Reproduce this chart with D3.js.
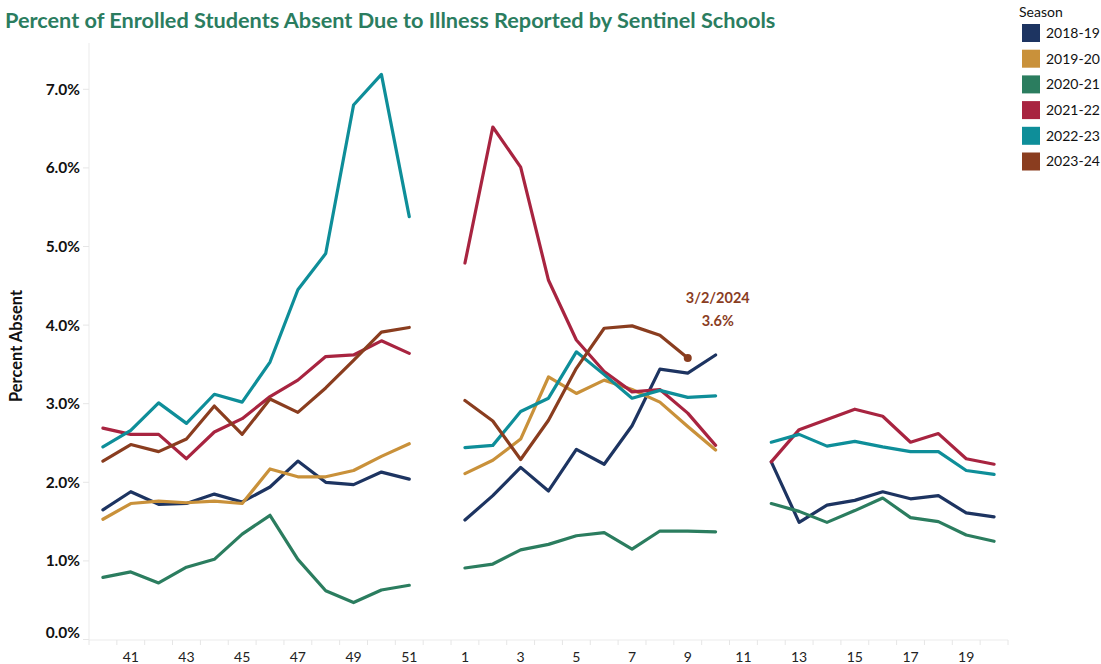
<!DOCTYPE html>
<html>
<head>
<meta charset="utf-8">
<script src="https://cdn.jsdelivr.net/npm/d3@7"></script>
<style>
body{margin:0;background:#fff;}
svg{display:block;font-family:Lato,"Open Sans",sans-serif;}
</style>
</head>
<body>
<svg id="chart" width="1101" height="664"></svg>
<script>
// Week slots (school season order)
const weeks = [40,41,42,43,44,45,46,47,48,49,50,51,52,1,2,3,4,5,6,7,8,9,10,11,12,13,14,15,16,17,18,19,20];
const tickLabels = [41,43,45,47,49,51,1,3,5,7,9,11,13,15,17,19];
const yTicks = [0,1,2,3,4,5,6,7];
const seasons = ["2018-19","2019-20","2020-21","2021-22","2022-23","2023-24"];
const colors = ["#1d3461","#c9913a","#2b7d5f","#a82440","#0e8e99","#8a3d1f"];

// values in percent, null = no data (aligned with weeks)
const s201819 = [1.65,1.88,1.72,1.73,1.85,1.75,1.94,2.27,2.00,1.97,2.13,2.04,null,
  1.52,1.83,2.19,1.89,2.42,2.23,2.72,3.44,3.39,3.62,null,
  2.26,1.49,1.71,1.77,1.88,1.79,1.83,1.61,1.56];
const s201920 = [1.53,1.73,1.76,1.74,1.76,1.73,2.17,2.07,2.07,2.15,2.33,2.49,null,
  2.11,2.28,2.55,3.34,3.13,3.30,3.18,3.02,2.71,2.41,null,
  null,null,null,null,null,null,null,null,null];
const s202021 = [0.79,0.86,0.72,0.92,1.02,1.34,1.58,1.02,0.62,0.47,0.63,0.69,null,
  0.91,0.96,1.14,1.21,1.32,1.36,1.15,1.38,1.38,1.37,null,
  1.73,1.63,1.49,1.64,1.80,1.55,1.50,1.33,1.25];
const s202122 = [2.69,2.61,2.61,2.30,2.64,2.81,3.09,3.30,3.60,3.62,3.80,3.64,null,
  4.79,6.52,6.01,4.57,3.81,3.41,3.15,3.18,2.88,2.47,null,
  2.26,2.67,2.80,2.93,2.84,2.51,2.62,2.30,2.23];
const s202223 = [2.45,2.66,3.01,2.75,3.12,3.02,3.53,4.45,4.91,6.80,7.19,5.38,null,
  2.44,2.47,2.90,3.07,3.66,3.37,3.07,3.17,3.08,3.10,null,
  2.51,2.61,2.46,2.52,2.45,2.39,2.39,2.15,2.10];
const s202324 = [2.27,2.48,2.39,2.55,2.97,2.61,3.06,2.89,3.20,3.55,3.91,3.97,null,
  3.04,2.78,2.29,2.79,3.45,3.96,3.99,3.87,3.58,null,null,
  null,null,null,null,null,null,null,null,null];
const seriesValues = [s201819,s201920,s202021,s202122,s202223,s202324];

const annotDate = "3/2/2024";
const annotValue = "3.6%";
const annotSeason = 5;
const annotWeekIndex = 21; // week 9

const svg = d3.select("#chart");

const x = d3.scalePoint().domain(d3.range(weeks.length)).range([89,1008]).padding(0.5);
const step = x.step();
const y = d3.scaleLinear().domain([0,7]).range([639.5,89.3]);

// Title
svg.append("text").attr("x",5).attr("y",28)
  .attr("font-size",21.7).attr("font-weight","bold").attr("fill","#2b7d5f")
  .text("Percent of Enrolled Students Absent Due to Illness Reported by Sentinel Schools");

// Y axis line
svg.append("line").attr("x1",89).attr("x2",89).attr("y1",43).attr("y2",640)
  .attr("stroke","#ebebeb").attr("stroke-width",1);
// X axis line
svg.append("line").attr("x1",89).attr("x2",1008).attr("y1",640).attr("y2",640)
  .attr("stroke","#ebebeb").attr("stroke-width",1);

// Y ticks
const yAxisG = svg.append("g");
yAxisG.selectAll("line.yt").data(yTicks).join("line")
  .attr("x1",83).attr("x2",89).attr("y1",d=>y(d)).attr("y2",d=>y(d))
  .attr("stroke","#e6e6e6");
yAxisG.selectAll("text.yt").data(yTicks).join("text")
  .attr("x",80).attr("y",d=>y(d) - (d===0?7:0)).attr("dy","0.35em")
  .attr("text-anchor","end").attr("font-size",15.5).attr("font-weight","bold").attr("fill","#111")
  .text(d=>d3.format(".1f")(d)+"%");

// X ticks at band boundaries
const bounds = d3.range(weeks.length+1).map(i => 89 + i*step);
svg.append("g").selectAll("line").data(bounds).join("line")
  .attr("x1",d=>d).attr("x2",d=>d).attr("y1",640).attr("y2",645)
  .attr("stroke","#e6e6e6");
svg.append("g").selectAll("text").data(tickLabels).join("text")
  .attr("x",d=>x(weeks.indexOf(d))).attr("y",657).attr("dy","0.35em")
  .attr("text-anchor","middle").attr("font-size",14).attr("fill","#222")
  .text(d=>d);

// Y axis title
svg.append("text").attr("transform","translate(22,346) rotate(-90)")
  .attr("text-anchor","middle").attr("font-size",16.5).attr("font-weight","bold").attr("fill","#111")
  .text("Percent Absent");

// Lines
const line = d3.line().defined(d=>d[1]!==null).x(d=>x(d[0])).y(d=>y(d[1]));
svg.append("g").selectAll("path").data(seriesValues).join("path")
  .attr("d",vals=>line(vals.map((v,i)=>[i,v])))
  .attr("fill","none").attr("stroke",(d,i)=>colors[i])
  .attr("stroke-width",3.2).attr("stroke-linejoin","round").attr("stroke-linecap","round");

// Annotation
const ax = x(annotWeekIndex), ay = y(seriesValues[annotSeason][annotWeekIndex]);
svg.append("circle").attr("cx",ax).attr("cy",ay).attr("r",4).attr("fill",colors[annotSeason]);
svg.append("text").attr("x",ax+30).attr("y",ay-55).attr("text-anchor","middle")
  .attr("font-size",14.5).attr("font-weight","bold").attr("fill",colors[annotSeason]).text(annotDate);
svg.append("text").attr("x",ax+30).attr("y",ay-32).attr("text-anchor","middle")
  .attr("font-size",14.5).attr("font-weight","bold").attr("fill",colors[annotSeason]).text(annotValue);

// Legend
svg.append("text").attr("x",1019).attr("y",17).attr("font-size",14).attr("fill","#111").text("Season");
const lg = svg.append("g").selectAll("g").data(seasons).join("g")
  .attr("transform",(d,i)=>`translate(1022,${24+i*25.7})`);
lg.append("rect").attr("width",18).attr("height",18).attr("fill",(d,i)=>colors[i]);
lg.append("text").attr("x",24).attr("y",9).attr("dy","0.35em").attr("font-size",14).attr("fill","#111").text(d=>d);
</script>
</body>
</html>
